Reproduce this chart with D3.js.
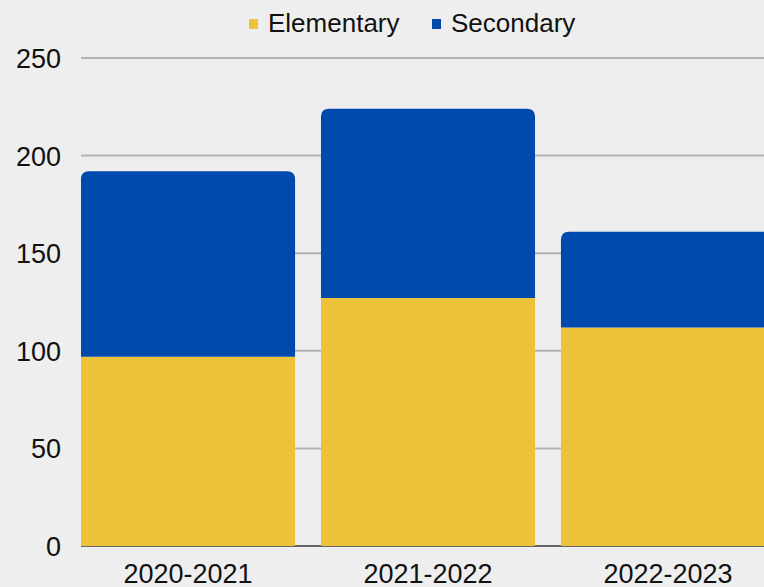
<!DOCTYPE html>
<html><head><meta charset="utf-8">
<script src="https://cdn.jsdelivr.net/npm/d3@7"></script>
<style>html,body{margin:0;padding:0;background:#eeeeee;overflow:hidden}svg{display:block}</style>
</head><body>
<svg id="c" width="764" height="587"></svg>
<script>
const categories = ["2020-2021", "2021-2022", "2022-2023"];
const elementary = [97, 127, 112];
const secondary = [95, 97, 49];
const seriesNames = ["Elementary", "Secondary"];
const yTicks = [0, 50, 100, 150, 200, 250];

const colors = {Elementary: "#ECC23B", Secondary: "#004AAD"};
const W = 764, H = 587;
const svg = d3.select("#c");
svg.append("rect").attr("width", W).attr("height", H).attr("fill", "#eeeeee");

const x = d3.scaleBand().domain(categories).range([81, 775]).paddingInner(0.108).paddingOuter(0);
const y = d3.scaleLinear().domain([0, 250]).range([546, 58]);
const font = "'Liberation Sans', Arial, sans-serif";

// grid
svg.append("g").selectAll("line").data(yTicks.filter(d => d > 0)).join("line")
  .attr("x1", 81).attr("x2", W).attr("y1", d => y(d)).attr("y2", d => y(d))
  .attr("stroke", "#b3b3b3").attr("stroke-width", 2);
// baseline
svg.append("line").attr("x1", 81).attr("x2", W).attr("y1", y(0)).attr("y2", y(0))
  .attr("stroke", "#666").attr("stroke-width", 2);

// y axis labels
const yAxis = d3.axisLeft(y).tickValues(yTicks).tickSize(0).tickPadding(0);
const gy = svg.append("g").attr("transform", "translate(61,0)").call(yAxis);
gy.select(".domain").remove();
gy.selectAll("text").attr("font-family", font).attr("font-size", 27).attr("fill", "#111").attr("dy", "0.35em");

// x axis labels
const xAxis = d3.axisBottom(x).tickSize(0).tickPadding(0);
const gx = svg.append("g").attr("transform", "translate(0,583)").call(xAxis);
gx.select(".domain").remove();
gx.selectAll("text").attr("font-family", font).attr("font-size", 27).attr("fill", "#111").attr("dy", 0);

// stacked bars
const rows = categories.map((c, i) => ({cat: c, Elementary: elementary[i], Secondary: secondary[i]}));
const stack = d3.stack().keys(seriesNames)(rows);
const r = 8;
stack.forEach((layer, li) => {
  const top = li === stack.length - 1;
  svg.append("g").selectAll("path").data(layer).join("path")
    .attr("fill", colors[layer.key])
    .attr("d", d => {
      const x0 = x(d.data.cat), w = x.bandwidth();
      const y0 = y(d[0]), y1 = y(d[1]);
      if (!top) return `M${x0},${y0}V${y1}H${x0 + w}V${y0}Z`;
      return `M${x0},${y0}V${y1 + r}Q${x0},${y1} ${x0 + r},${y1}H${x0 + w - r}Q${x0 + w},${y1} ${x0 + w},${y1 + r}V${y0}Z`;
    });
});

// legend
const legend = [{name: "Elementary", sx: 249, tx: 268}, {name: "Secondary", sx: 432, tx: 451}];
const lg = svg.append("g");
lg.selectAll("rect").data(legend).join("rect")
  .attr("x", d => d.sx).attr("y", 19).attr("width", 9).attr("height", 10)
  .attr("fill", d => colors[d.name]);
lg.selectAll("text").data(legend).join("text")
  .attr("x", d => d.tx).attr("y", 32).text(d => d.name)
  .attr("font-family", font).attr("font-size", 26).attr("fill", "#111");
</script>
</body></html>
